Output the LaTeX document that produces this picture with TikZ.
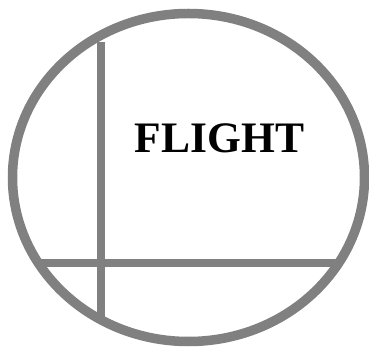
\documentclass[tikz,border=0pt]{standalone}
\usepackage{fontspec}
\setmainfont{Liberation Serif}
\usetikzlibrary{shapes.geometric}
\definecolor{linegray}{HTML}{808080}
\tikzset{
  rim/.style={draw=linegray, line width=9.5pt},
  bar/.style={draw=linegray, line width=7.5pt},
  label/.style={font=\fontsize{43.5}{50}\selectfont\bfseries, text=black, inner sep=0pt, anchor=base}
}
\begin{document}
\begin{tikzpicture}[x=1pt,y=-1pt]
\useasboundingbox (0,0) rectangle (369,347);
\node[rim, ellipse, minimum width=352pt, minimum height=328pt, inner sep=0pt] (rim) at (188.5,177.5) {};
\coordinate (vtop) at (101,42);
\coordinate (vbot) at (101,321);
\coordinate (hl) at (38,263);
\coordinate (hr) at (341,263);
\draw[bar] (vtop) -- (vbot);
\draw[bar] (hl) -- (hr);
\node[label] (title) at (219.5,153) {FLIGHT};
\end{tikzpicture}
\end{document}
